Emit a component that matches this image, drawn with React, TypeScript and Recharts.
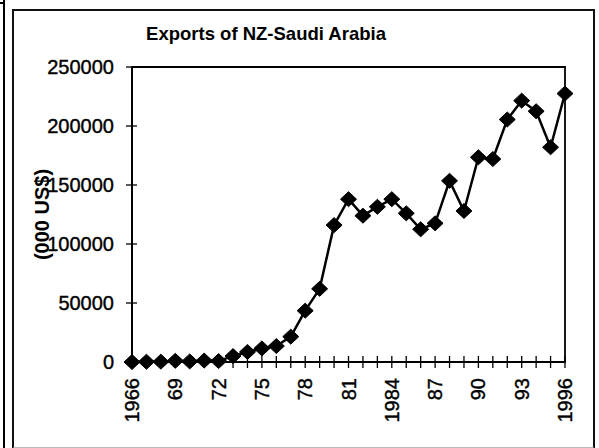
import React from 'react';
import { LineChart, Line, XAxis, YAxis, ReferenceArea } from 'recharts';

const years = [
  1966, 1967, 1968, 1969, 1970, 1971, 1972, 1973, 1974, 1975, 1976,
  1977, 1978, 1979, 1980, 1981, 1982, 1983, 1984, 1985, 1986,
  1987, 1988, 1989, 1990, 1991, 1992, 1993, 1994, 1995, 1996,
];
const exportsValues = [
  0, 200, 300, 1000, 500, 1200, 800, 5000, 8500, 11500, 13500,
  21500, 43500, 62000, 116000, 138000, 124000, 131500, 138000, 126000, 112500,
  117500, 153500, 128000, 173500, 172000, 205500, 221500, 212500, 182000, 227500,
];
const yTicks = [0, 50000, 100000, 150000, 200000, 250000];
const fullYearLabels = [1966, 1984, 1996];

const chartData = years.map((year, i) => ({ year, value: exportsValues[i] }));

const FONT = '"Liberation Sans", Arial, sans-serif';

const yearLabel = (year: number) => {
  if ((year - 1966) % 3 !== 0) return '';
  if (fullYearLabels.includes(year)) return String(year);
  return String(year).slice(2);
};

const XTick = (props: any) => {
  const { x, y, payload } = props;
  const label = yearLabel(payload.value);
  return (
    <g>
      <line x1={x} x2={x} y1={y - 16} y2={y - 22} stroke="#000" strokeWidth={1.3} />
      {label && (
        <text
          x={x}
          y={y}
          transform={`rotate(-90, ${x}, ${y})`}
          textAnchor="end"
          dominantBaseline="central"
          fontFamily={FONT}
          fontSize={20}
          fill="#000"
          stroke="#000"
          strokeWidth={0.4}
        >
          {label}
        </text>
      )}
    </g>
  );
};

const YTick = (props: any) => {
  const { x, y, payload } = props;
  return (
    <g>
      <line x1={x + 18} x2={x + 23} y1={y} y2={y} stroke="#000" strokeWidth={1.3} />
      <text
        x={x}
        y={y}
        textAnchor="end"
        dominantBaseline="central"
        fontFamily={FONT}
        fontSize={20}
        fill="#000"
        stroke="#000"
        strokeWidth={0.4}
      >
        {payload.value}
      </text>
    </g>
  );
};

const Diamond = (props: any) => {
  const { cx, cy, index } = props;
  if (cx == null || cy == null) return null;
  return (
    <polygon
      key={index}
      points={`${cx},${cy - 7.5} ${cx + 8},${cy} ${cx},${cy + 7.5} ${cx - 8},${cy}`}
      fill="#000"
      stroke="#000"
    />
  );
};

const YLabel = (props: any) => {
  const { viewBox } = props;
  const cy = viewBox.y + viewBox.height / 2;
  const cx = 42;
  return (
    <text
      x={cx}
      y={cy}
      transform={`rotate(-90, ${cx}, ${cy})`}
      textAnchor="middle"
      dominantBaseline="central"
      fontFamily={FONT}
      fontSize={20}
      fontWeight="bold"
      fill="#000"
    >
      (000 US$)
    </text>
  );
};

export default function App() {
  return (
    <div style={{ position: 'fixed', left: 0, top: 0, width: 599, height: 448, background: '#fff' }}>
      {/* page frames */}
      <div style={{ position: 'absolute', left: 3, top: 0, width: 2, height: 448, background: '#000' }} />
      <div style={{ position: 'absolute', left: 0, top: 2, width: 5, height: 2, background: '#000' }} />
      <div
        style={{
          position: 'absolute',
          left: 12,
          top: 9,
          width: 579,
          height: 436,
          border: '2px solid #111',
          borderBottomColor: '#bbb',
        }}
      />
      <div
        style={{
          position: 'absolute',
          left: 266,
          top: 23,
          transform: 'translateX(-50%)',
          fontFamily: FONT,
          fontWeight: 'bold',
          fontSize: 18.5,
          whiteSpace: 'nowrap',
          color: '#000',
        }}
      >
        Exports of NZ-Saudi Arabia
      </div>
      <div style={{ position: 'absolute', left: 0, top: 0 }}>
        <LineChart
          width={599}
          height={448}
          data={chartData}
          margin={{ top: 67, right: 34, bottom: 26, left: 72 }}
        >
          <XAxis
            dataKey="year"
            type="number"
            domain={[1966, 1996]}
            ticks={years}
            interval={0}
            height={60}
            tickSize={6}
            tickMargin={10}
            tick={<XTick />}
            axisLine={{ stroke: '#000', strokeWidth: 1.8 }}
            tickLine={{ stroke: '#000', strokeWidth: 1.3 }}
          />
          <YAxis
            type="number"
            domain={[0, 250000]}
            ticks={yTicks}
            interval={0}
            width={60}
            tickSize={6}
            tickMargin={12}
            tick={<YTick />}
            axisLine={{ stroke: '#000', strokeWidth: 1.8 }}
            tickLine={{ stroke: '#000', strokeWidth: 1.3 }}
            label={<YLabel />}
          />
          <ReferenceArea
            x1={1966}
            x2={1996}
            y1={0}
            y2={250000}
            fill="none"
            fillOpacity={0}
            stroke="#000"
            strokeWidth={1.8}
            strokeOpacity={1}
          />
          <Line
            type="linear"
            dataKey="value"
            stroke="#000"
            strokeWidth={2.5}
            dot={<Diamond />}
            activeDot={false}
            isAnimationActive={false}
          />
        </LineChart>
      </div>
    </div>
  );
}
